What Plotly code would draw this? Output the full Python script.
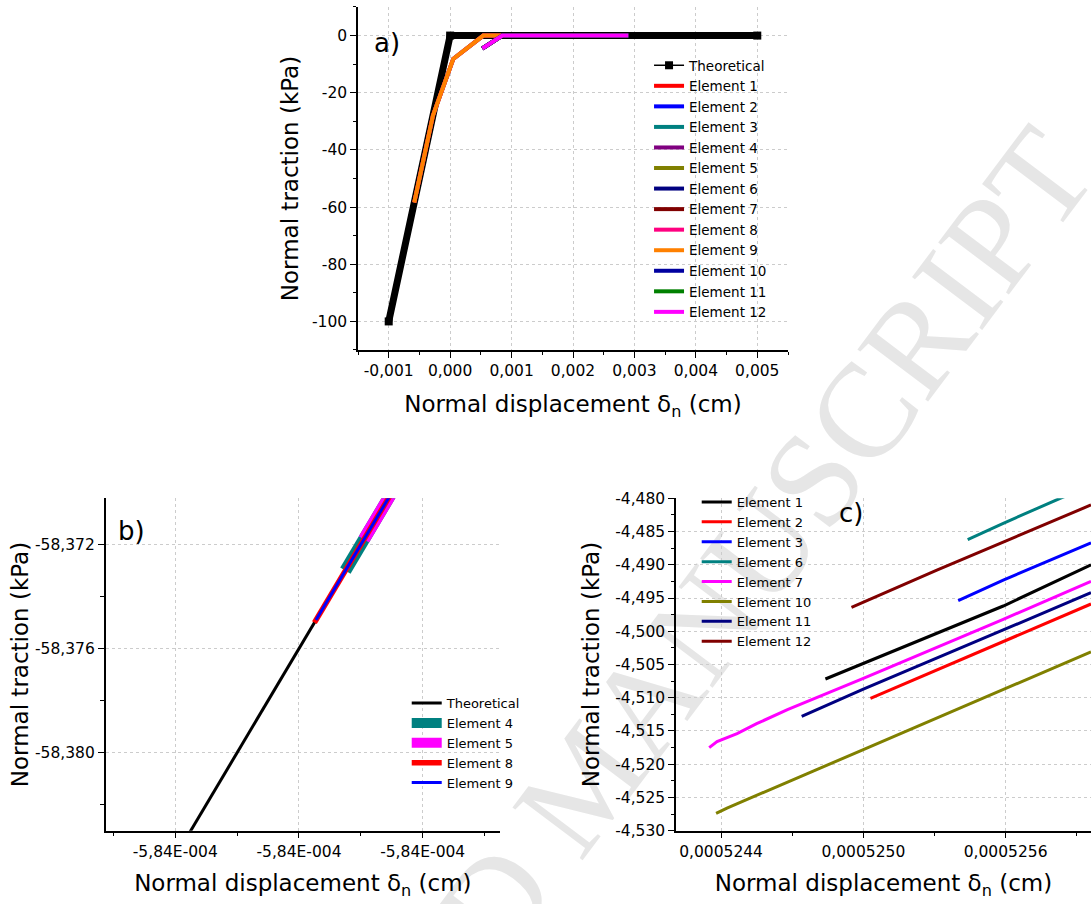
import plotly.graph_objects as go

# ---------------- data ----------------
# panel a
theo_a_x = [-0.001, 0.0, 0.005]
theo_a_y = [-100.0, 0.0, 0.0]
# elements starting deep in compression (4, 5, 8, 9)
deep_a_x = [-0.000584, -0.00028, 0.00005, 0.00054, 0.00083]
deep_a_y = [-58.4, -28.0, -8.2, 0.0, 0.0]
# elements starting near -4.5 kPa (1, 2, 3, 6, 7, 10, 11, 12)
shallow_a_x = [0.000524, 0.00085, 0.0029]
shallow_a_y = [-4.5, 0.0, 0.0]
a_xtick_vals = [-0.001, 0.0, 0.001, 0.002, 0.003, 0.004, 0.005]
a_xtick_text = ["-0,001", "0,000", "0,001", "0,002", "0,003", "0,004", "0,005"]
a_ytick_vals = [-100, -80, -60, -40, -20, 0]
a_ytick_text = ["-100", "-80", "-60", "-40", "-20", "0"]

# panel b
theo_b_x = [-5.83840e-4, -5.83690e-4]
theo_b_y = [-58.3840, -58.3690]
el4_b_x = [-5.83730e-4, -5.83690e-4]
el4_b_y = [-58.3730, -58.3690]
el5_b_x = [-5.83718e-4, -5.83690e-4]
el5_b_y = [-58.3718, -58.3690]
el8_b_x = [-5.83750e-4, -5.83690e-4]
el8_b_y = [-58.3750, -58.3690]
el9_b_x = [-5.83749e-4, -5.83690e-4]
el9_b_y = [-58.3749, -58.3690]
b_xtick_vals = [-5.8384e-4, -5.8376e-4, -5.8368e-4]
b_xtick_text = ["-5,84E-004", "-5,84E-004", "-5,84E-004"]
b_xminor_vals = [-5.8388e-4, -5.8380e-4, -5.8372e-4, -5.8364e-4]
b_ytick_vals = [-58.380, -58.376, -58.372]
b_ytick_text = ["-58,380", "-58,376", "-58,372"]

# panel c
el1_c_x = [0.00052484, 0.00052517, 0.00052559, 0.00052596]
el1_c_y = [-4.50718, -4.50232, -4.4962, -4.4900]
el2_c_x = [0.00052503, 0.00052531, 0.00052559, 0.00052596]
el2_c_y = [-4.5101, -4.5058, -4.5015, -4.4959]
el3_c_x = [0.00052540, 0.00052559, 0.00052596]
el3_c_y = [-4.4954, -4.4923, -4.4867]
el6_c_x = [0.00052544, 0.00052559, 0.00052583, 0.00052596]
el6_c_y = [-4.4862, -4.48376, -4.4800, -4.47814]
el7_c_x = [0.00052435, 0.000524383, 0.0005244675, 0.00052455, 0.00052468,
           0.00052500, 0.00052559, 0.00052596]
el7_c_y = [-4.5175, -4.5166, -4.5154, -4.5139, -4.5118, -4.5071, -4.4982, -4.4925]
el10_c_x = [0.000524379, 0.000524425, 0.00052500, 0.00052559, 0.00052596]
el10_c_y = [-4.5274, -4.5266, -4.5178, -4.5087, -4.5031]
el11_c_x = [0.00052474, 0.00052500, 0.00052559, 0.00052596]
el11_c_y = [-4.5128, -4.5087, -4.4998, -4.4942]
el12_c_x = [0.00052495, 0.00052531, 0.00052596]
el12_c_y = [-4.4964, -4.4908, -4.4810]
c_xtick_vals = [0.0005244, 0.0005250, 0.0005256]
c_xtick_text = ["0,0005244", "0,0005250", "0,0005256"]
c_ytick_vals = [-4.530, -4.525, -4.520, -4.515, -4.510, -4.505, -4.500,
                -4.495, -4.490, -4.485, -4.480]
c_ytick_text = ["-4,530", "-4,525", "-4,520", "-4,515", "-4,510", "-4,505", "-4,500",
                "-4,495", "-4,490", "-4,485", "-4,480"]

# element colours (panel a)
a_colors = {1: "#FF0000", 2: "#0000FF", 3: "#008080", 4: "#800080", 5: "#808000",
            6: "#000080", 7: "#800000", 8: "#FF0080", 9: "#FF8000", 10: "#0000A0",
            11: "#008000", 12: "#FF00FF"}
deep_elements = [4, 5, 8, 9]

FONT = "DejaVu Sans"
TICKF = dict(family=FONT, size=15.5, color="black")
TITLEF = dict(family=FONT, size=23, color="black")

fig = go.Figure()

# ---------- panel a ----------
fig.add_trace(go.Scatter(x=theo_a_x, y=theo_a_y, mode="lines+markers", name="Theoretical",
                         line=dict(color="black", width=1.5),
                         marker=dict(symbol="square", size=8, color="black"),
                         xaxis="x", yaxis="y", legend="legend"))
fig.add_trace(go.Scatter(x=theo_a_x, y=theo_a_y, mode="lines", showlegend=False,
                         line=dict(color="black", width=7), xaxis="x", yaxis="y"))
for k in range(1, 13):
    if k in deep_elements:
        xs, ys = deep_a_x, deep_a_y
    else:
        xs, ys = shallow_a_x, shallow_a_y
    fig.add_trace(go.Scatter(x=xs, y=ys, mode="lines", name=f"Element {k}",
                             line=dict(color=a_colors[k], width=4),
                             xaxis="x", yaxis="y", legend="legend"))

# ---------- panel b ----------
b_series = [("Theoretical", theo_b_x, theo_b_y, "black", 3),
            ("Element 4", el4_b_x, el4_b_y, "#008080", 12),
            ("Element 5", el5_b_x, el5_b_y, "#FF00FF", 12),
            ("Element 8", el8_b_x, el8_b_y, "#FF0000", 5.5),
            ("Element 9", el9_b_x, el9_b_y, "#0000FF", 3)]
for name, xs, ys, col, w in b_series:
    fig.add_trace(go.Scatter(x=xs, y=ys, mode="lines", name=name,
                             line=dict(color=col, width=w),
                             xaxis="x2", yaxis="y2", legend="legend2"))

# ---------- panel c ----------
c_series = [("Element 1", el1_c_x, el1_c_y, "#000000"),
            ("Element 2", el2_c_x, el2_c_y, "#FF0000"),
            ("Element 3", el3_c_x, el3_c_y, "#0000FF"),
            ("Element 6", el6_c_x, el6_c_y, "#008080"),
            ("Element 7", el7_c_x, el7_c_y, "#FF00FF"),
            ("Element 10", el10_c_x, el10_c_y, "#808000"),
            ("Element 11", el11_c_x, el11_c_y, "#000080"),
            ("Element 12", el12_c_x, el12_c_y, "#800000")]
for name, xs, ys, col in c_series:
    fig.add_trace(go.Scatter(x=xs, y=ys, mode="lines", name=name,
                             line=dict(color=col, width=3),
                             xaxis="x3", yaxis="y3", legend="legend3"))

def axstyle(**kw):
    d = dict(showline=True, linecolor="black", linewidth=1.5, ticks="outside",
             ticklen=6, tickwidth=1.2, tickcolor="black", tickfont=TICKF,
             showgrid=True, gridcolor="#cccccc", griddash="dot", gridwidth=1,
             zeroline=False, automargin=False, mirror=False)
    d.update(kw)
    return d

def minor(**kw):
    d = dict(ticklen=3.5, tickwidth=1.2, tickcolor="black", ticks="outside", showgrid=False)
    d.update(kw)
    return d

XT = "Normal displacement δ<sub>n</sub> (cm)"
YT = "Normal traction (kPa)"

fig.update_layout(
    width=1091, height=904, margin=dict(l=0, r=0, t=0, b=0),
    paper_bgcolor="white", plot_bgcolor="rgba(0,0,0,0)",
    font=dict(family=FONT, color="black"),
    xaxis=axstyle(domain=[0.32814, 0.72227], range=[-0.0015, 0.0055],
                  tickmode="array", tickvals=a_xtick_vals, ticktext=a_xtick_text,
                  minor=minor(tickmode="linear", tick0=0, dtick=0.0005),
                  title=dict(text=XT, font=TITLEF, standoff=17), anchor="y"),
    yaxis=axstyle(domain=[0.61283, 0.99226], range=[-110, 10],
                  tickmode="array", tickvals=a_ytick_vals, ticktext=a_ytick_text,
                  minor=minor(tickmode="linear", tick0=0, dtick=10),
                  title=dict(text=YT, font=TITLEF, standoff=7), anchor="x"),
    xaxis2=axstyle(domain=[0.09688, 0.45830], range=[-5.83885e-4, -5.83630e-4],
                   tickmode="array", tickvals=b_xtick_vals, ticktext=b_xtick_text,
                   minor=minor(tickmode="array", tickvals=b_xminor_vals),
                   title=dict(text=XT, font=TITLEF, standoff=15), anchor="y2"),
    yaxis2=axstyle(domain=[0.08108, 0.44878], range=[-58.383, -58.37022],
                   tickmode="array", tickvals=b_ytick_vals, ticktext=b_ytick_text,
                   minor=minor(tickmode="linear", tick0=-58.372, dtick=0.002),
                   title=dict(text=YT, font=TITLEF, standoff=0), anchor="x2"),
    xaxis3=axstyle(domain=[0.61962, 1.0], range=[0.00052421, 0.00052596],
                   tickmode="array", tickvals=c_xtick_vals, ticktext=c_xtick_text,
                   minor=minor(tickmode="linear", tick0=0.0005244, dtick=3e-7),
                   title=dict(text=XT, font=TITLEF, standoff=15), anchor="y3"),
    yaxis3=axstyle(domain=[0.08108, 0.44878], range=[-4.530, -4.480],
                   tickmode="array", tickvals=c_ytick_vals, ticktext=c_ytick_text,
                   minor=minor(tickmode="linear", tick0=-4.48, dtick=0.0025),
                   title=dict(text=YT, font=TITLEF, standoff=9), anchor="x3"),
    legend=dict(x=0.5949, y=0.9447, xanchor="left", yanchor="top", bgcolor="rgba(0,0,0,0)",
                font=dict(family=FONT, size=13.5, color="black"), borderwidth=0),
    legend2=dict(x=0.3728, y=0.2389, xanchor="left", yanchor="top", bgcolor="rgba(0,0,0,0)",
                 font=dict(family=FONT, size=13, color="black"), borderwidth=0),
    legend3=dict(x=0.6386, y=0.4613, xanchor="left", yanchor="top", bgcolor="rgba(0,0,0,0)",
                 font=dict(family=FONT, size=13, color="black"), borderwidth=0),
    annotations=[
        dict(text="a)", x=0.3547, y=0.9524, xref="paper", yref="paper", showarrow=False,
             xanchor="center", yanchor="middle", font=dict(family=FONT, size=26, color="black")),
        dict(text="b)", x=0.1201, y=0.4126, xref="paper", yref="paper", showarrow=False,
             xanchor="center", yanchor="middle", font=dict(family=FONT, size=26, color="black")),
        dict(text="c)", x=0.7800, y=0.4325, xref="paper", yref="paper", showarrow=False,
             xanchor="center", yanchor="middle", font=dict(family=FONT, size=26, color="black")),
    ],
    shapes=[
        dict(type="rect", xref="paper", yref="paper", x0=0.516, x1=0.536, y0=0.136, y1=0.156,
             line=dict(width=0), fillcolor="rgba(0,0,0,0)", layer="below",
             label=dict(text="ACCEPTED MANUSCRIPT", textangle=-53, textposition="middle center",
                        font=dict(family="Liberation Serif", size=134, color="#e6e6e6"))),
    ],
)

fig.write_html("out.html")
